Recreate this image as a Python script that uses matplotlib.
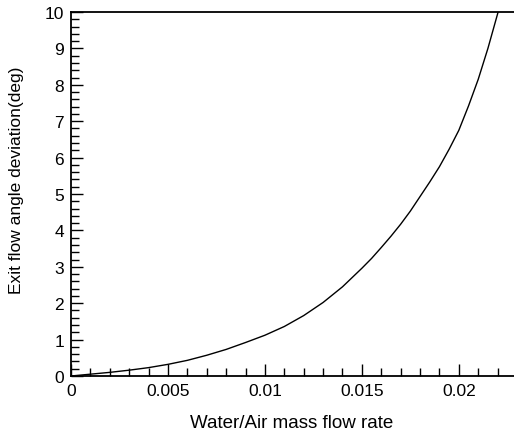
import matplotlib
matplotlib.use("Agg")
import matplotlib.pyplot as plt
from matplotlib.ticker import MultipleLocator

plt.rcParams['font.family'] = ['Liberation Sans', 'DejaVu Sans']

flow_ratio = [0.0, 0.001, 0.002, 0.003, 0.004, 0.005, 0.006, 0.007, 0.008,
              0.009, 0.010, 0.011, 0.012, 0.013, 0.014, 0.015, 0.0155, 0.016,
              0.0165, 0.017, 0.0175, 0.018, 0.0185, 0.019, 0.0195, 0.020,
              0.0205, 0.021, 0.0215, 0.022, 0.02205]
deviation = [0.0, 0.05, 0.10, 0.16, 0.23, 0.32, 0.43, 0.57, 0.73,
             0.92, 1.12, 1.36, 1.66, 2.02, 2.45, 2.96, 3.23, 3.53,
             3.84, 4.17, 4.53, 4.93, 5.33, 5.75, 6.23, 6.75,
             7.42, 8.15, 9.00, 9.95, 10.05]

x_ticks = [0, 0.005, 0.01, 0.015, 0.02]
x_tick_labels = ["0", "0.005", "0.01", "0.015", "0.02"]
y_ticks = list(range(0, 11))

fig = plt.figure(figsize=(5.14, 4.39), dpi=100)
ax = fig.add_axes([71 / 514, 62 / 439, 446 / 514, 364 / 439])

ax.plot(flow_ratio, deviation, color='black', linewidth=1.0)

ax.set_xlim(0, 0.023)
ax.set_ylim(0, 10)
ax.set_xticks(x_ticks)
ax.set_xticklabels(x_tick_labels)
ax.set_yticks(y_ticks)
ax.xaxis.set_minor_locator(MultipleLocator(0.001))
ax.yaxis.set_minor_locator(MultipleLocator(0.2))

ax.tick_params(which='both', direction='in', top=False, right=False,
               width=1.0, labelsize=12.5, pad=5)
ax.tick_params(which='major', length=8.5)
ax.tick_params(which='minor', length=5.5)

for side in ['left', 'bottom', 'top']:
    ax.spines[side].set_linewidth(1.3)
ax.spines['right'].set_visible(False)

ax.set_xlabel("Water/Air mass flow rate", fontsize=13.5)
ax.set_ylabel("Exit flow angle deviation(deg)", fontsize=12.5)
ax.xaxis.set_label_coords(0.495, -0.105)
ax.yaxis.set_label_coords(-0.105, 0.54)

fig.savefig("out.png", dpi=100)
